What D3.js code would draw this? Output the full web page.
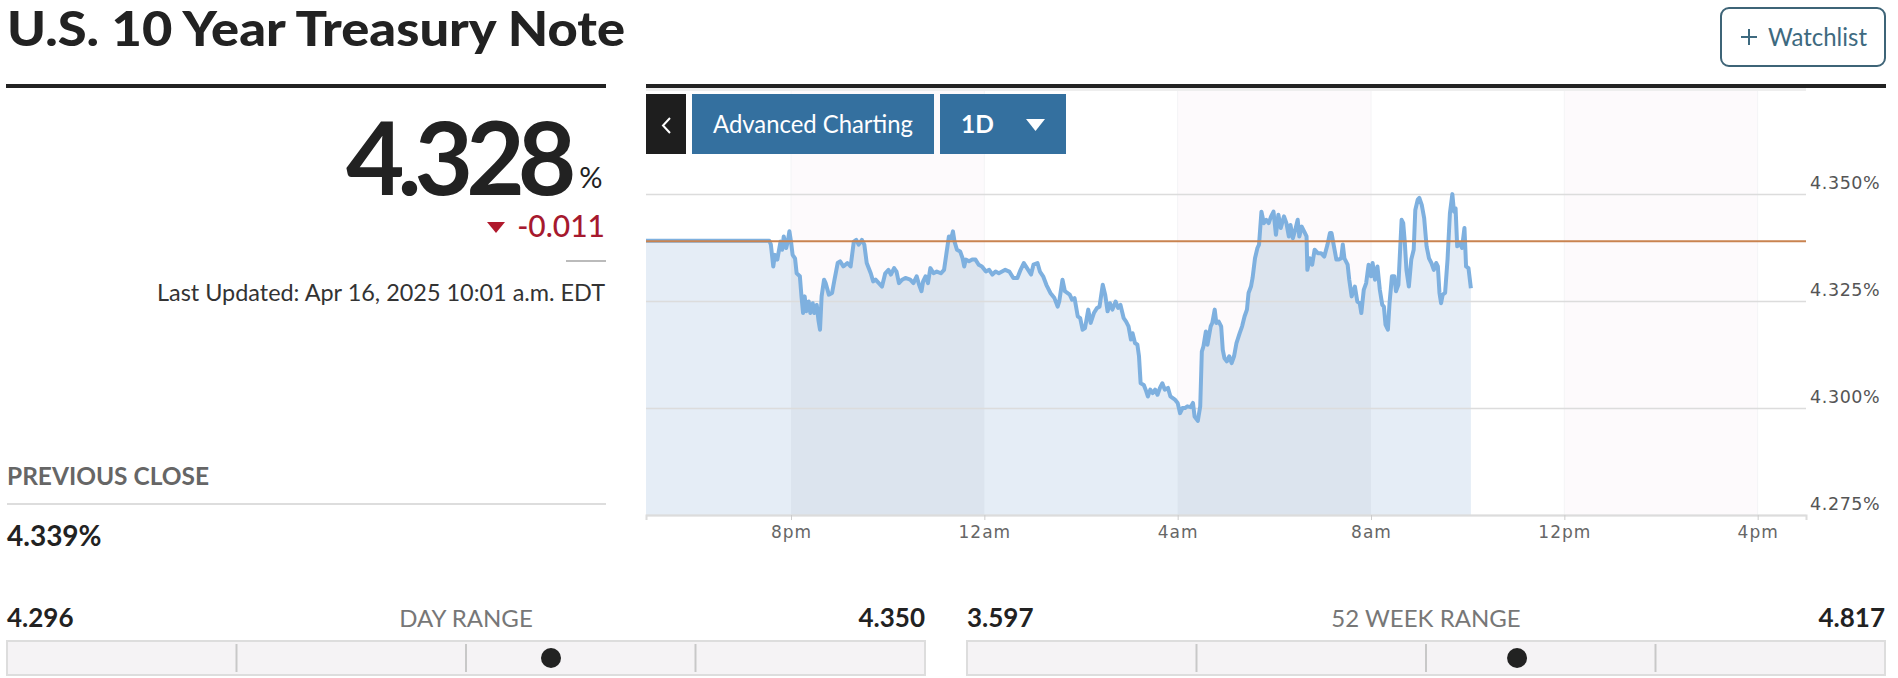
<!DOCTYPE html>
<html>
<head>
<meta charset="utf-8">
<script src="https://cdn.jsdelivr.net/npm/d3@7"></script>
<style>
  html, body { margin: 0; padding: 0; background: #fff; }
  svg { display: block; font-family: Lato, 'Open Sans', sans-serif; }
  .axis text { font-family: 'DejaVu Sans', sans-serif; }
</style>
</head>
<body>
<script>
// yield data (minutes after 5pm on Apr 15)
const minutes = [0, 153, 155, 158, 160, 163, 167, 169, 171, 174, 176, 178, 180, 182, 185, 187, 191, 193, 195, 197,
  199, 202, 204, 207, 209, 212, 214, 216, 218, 221, 223, 227, 231, 234, 238, 241, 245, 250, 254, 258,
  261, 264, 268, 271, 274, 279, 282, 285, 289, 293, 297, 301, 304, 308, 311, 314, 318, 322, 328, 332,
  336, 339, 342, 344, 347, 350, 353, 357, 361, 366, 370, 373, 376, 379, 381, 383, 386, 390, 393, 395,
  397, 401, 405, 409, 413, 417, 422, 426, 430, 434, 438, 442, 446, 451, 456, 461, 465, 469, 473, 478,
  481, 486, 489, 493, 497, 502, 507, 511, 513, 517, 520, 523, 526, 529, 532, 536, 539, 542, 545, 549,
  552, 556, 560, 563, 567, 570, 573, 576, 579, 583, 586, 589, 593, 596, 599, 602, 604, 607, 610, 612,
  614, 618, 621, 623, 626, 629, 632, 635, 638, 641, 644, 648, 651, 654, 657, 660, 663, 666, 669, 672,
  676, 679, 681, 685, 688, 690, 692, 695, 697, 701, 703, 706, 708, 711, 714, 716, 718, 721, 724, 727,
  730, 733, 737, 740, 743, 746, 748, 751, 753, 756, 759, 761, 764, 767, 770, 773, 776, 779, 782, 785,
  788, 792, 795, 798, 800, 803, 806, 809, 811, 814, 817, 820, 821, 824, 827, 830, 834, 838, 842, 846,
  849, 851, 854, 857, 860, 863, 865, 867, 871, 873, 876, 880, 883, 886, 888, 891, 894, 897, 900, 902,
  905, 908, 911, 914, 916, 918, 921, 923, 926, 929, 931, 934, 938, 940, 942, 944, 947, 950, 953, 955,
  958, 960, 963, 966, 969, 972, 975, 978, 981, 983, 985, 987, 989, 992, 995, 998, 1001, 1003, 1005, 1007,
  1010, 1013, 1016, 1017, 1018, 1021, 1024];
const yields = [4.3391, 4.3391, 4.3382, 4.3331, 4.3358, 4.3347, 4.3389, 4.3370, 4.3401, 4.3374, 4.3389, 4.3413, 4.3389, 4.3358, 4.3350, 4.3315, 4.3308, 4.3261, 4.3222, 4.3261,
  4.3226, 4.3249, 4.3222, 4.3245, 4.3222, 4.3241, 4.3206, 4.3183, 4.3261, 4.3300, 4.3292, 4.3265, 4.3269, 4.3300, 4.3339, 4.3343, 4.3331, 4.3339, 4.3331, 4.3389,
  4.3393, 4.3382, 4.3393, 4.3382, 4.3339, 4.3315, 4.3296, 4.3300, 4.3292, 4.3284, 4.3315, 4.3323, 4.3312, 4.3327, 4.3319, 4.3292, 4.3300, 4.3304, 4.3300, 4.3292,
  4.3308, 4.3288, 4.3273, 4.3296, 4.3308, 4.3292, 4.3327, 4.3315, 4.3319, 4.3315, 4.3323, 4.3362, 4.3401, 4.3397, 4.3413, 4.3389, 4.3370, 4.3366, 4.3350, 4.3331,
  4.3347, 4.3343, 4.3347, 4.3347, 4.3335, 4.3331, 4.3319, 4.3323, 4.3312, 4.3319, 4.3315, 4.3319, 4.3323, 4.3319, 4.3304, 4.3304, 4.3323, 4.3339, 4.3327, 4.3312,
  4.3335, 4.3339, 4.3319, 4.3308, 4.3288, 4.3269, 4.3257, 4.3237, 4.3249, 4.3300, 4.3273, 4.3269, 4.3265, 4.3253, 4.3257, 4.3214, 4.3210, 4.3183, 4.3187, 4.3230,
  4.3199, 4.3222, 4.3234, 4.3237, 4.3288, 4.3265, 4.3226, 4.3245, 4.3230, 4.3249, 4.3234, 4.3241, 4.3210, 4.3202, 4.3191, 4.3160, 4.3175, 4.3152, 4.3148, 4.3121,
  4.3058, 4.3054, 4.3039, 4.3027, 4.3043, 4.3035, 4.3043, 4.3031, 4.3047, 4.3058, 4.3043, 4.3047, 4.3027, 4.3023, 4.3019, 4.3012, 4.2988, 4.3000, 4.3000, 4.3004,
  4.3002, 4.3012, 4.2980, 4.2970, 4.3004, 4.3132, 4.3144, 4.3179, 4.3148, 4.3191, 4.3199, 4.3230, 4.3199, 4.3202, 4.3191, 4.3136, 4.3117, 4.3109, 4.3121, 4.3105,
  4.3121, 4.3152, 4.3175, 4.3191, 4.3214, 4.3230, 4.3269, 4.3284, 4.3304, 4.3350, 4.3374, 4.3382, 4.3459, 4.3432, 4.3440, 4.3432, 4.3448, 4.3459, 4.3405, 4.3452,
  4.3421, 4.3448, 4.3432, 4.3401, 4.3428, 4.3397, 4.3417, 4.3440, 4.3401, 4.3424, 4.3413, 4.3401, 4.3323, 4.3350, 4.3335, 4.3370, 4.3362, 4.3362, 4.3354, 4.3382,
  4.3409, 4.3409, 4.3378, 4.3347, 4.3347, 4.3350, 4.3382, 4.3350, 4.3335, 4.3300, 4.3261, 4.3284, 4.3249, 4.3245, 4.3222, 4.3276, 4.3292, 4.3335, 4.3308, 4.3339,
  4.3300, 4.3331, 4.3276, 4.3241, 4.3237, 4.3195, 4.3183, 4.3245, 4.3308, 4.3308, 4.3273, 4.3288, 4.3440, 4.3432, 4.3386, 4.3323, 4.3284, 4.3347, 4.3370, 4.3463,
  4.3487, 4.3491, 4.3475, 4.3444, 4.3378, 4.3350, 4.3339, 4.3323, 4.3339, 4.3331, 4.3269, 4.3245, 4.3265, 4.3269, 4.3347, 4.3456, 4.3500, 4.3459, 4.3467, 4.3378,
  4.3386, 4.3374, 4.3421, 4.3378, 4.3331, 4.3327, 4.3280];

const yTicks = [4.275, 4.300, 4.325, 4.350];
const previousClose = 4.339;
const lastPrice = 4.328;
const change = -0.011;
const dayRange = [4.296, 4.350];
const weekRange = [3.597, 4.817];

const W = 1898, H = 678;
const start = new Date(2025, 3, 15, 17, 0);
const end = new Date(2025, 3, 16, 17, 0);
const data = minutes.map((m, i) => ({ t: new Date(+start + m * 60000), v: yields[i] }));

const svg = d3.select('body').append('svg').attr('width', W).attr('height', H);

// ---- header ----
svg.append('text').attr('x', 7).attr('y', 46)
  .attr('font-size', 47).attr('font-weight', 900).attr('fill', '#222')
  .attr('textLength', 618).attr('lengthAdjust', 'spacingAndGlyphs')
  .text('U.S. 10 Year Treasury Note');

svg.append('rect').attr('x', 6).attr('y', 84).attr('width', 600).attr('height', 4).attr('fill', '#222');
svg.append('rect').attr('x', 646).attr('y', 84).attr('width', 1240).attr('height', 4).attr('fill', '#222');
svg.append('rect').attr('x', 646).attr('y', 88).attr('width', 1160).attr('height', 3).attr('fill', '#eeeeee');

// watchlist button
svg.append('rect').attr('x', 1721).attr('y', 8).attr('width', 164).attr('height', 58).attr('rx', 8)
  .attr('fill', 'none').attr('stroke', '#3e6477').attr('stroke-width', 2);
svg.append('path').attr('d', 'M1749,29L1749,45M1741,37L1757,37')
  .attr('stroke', '#3e6a80').attr('stroke-width', 2);
svg.append('text').attr('x', 1768).attr('y', 46).attr('font-size', 25).attr('fill', '#3e6a80')
  .attr('textLength', 99).attr('lengthAdjust', 'spacingAndGlyphs')
  .text('Watchlist');

// quote block: price, percent sign and change in one text element
const big = svg.append('text').attr('x', 346).attr('y', 195).attr('fill', '#222');
big.append('tspan').attr('font-size', 101).attr('font-weight', 700).attr('letter-spacing', -7)
  .text(lastPrice.toFixed(3));
big.append('tspan').attr('font-size', 29).attr('dx', 10).attr('dy', -7).text('%');
big.append('tspan').attr('x', 605).attr('y', 237).attr('text-anchor', 'end')
  .attr('font-size', 30).attr('font-weight', 500).attr('fill', '#a6192e').text(change.toFixed(3));
svg.append('path').attr('d', 'M487,222L505,222L496,233Z').attr('fill', '#b0192c');
svg.append('line').attr('x1', 566).attr('x2', 606).attr('y1', 261).attr('y2', 261)
  .attr('stroke', '#bbb').attr('stroke-width', 2);
svg.append('text').attr('x', 605).attr('y', 301).attr('text-anchor', 'end')
  .attr('font-size', 23.5).attr('fill', '#333')
  .attr('textLength', 448).attr('lengthAdjust', 'spacingAndGlyphs')
  .text('Last Updated: Apr 16, 2025 10:01 a.m. EDT');

// ---- chart ----
const plot = { left: 646, right: 1806, top: 91, bottom: 515 };
const x = d3.scaleTime().domain([start, end]).range([plot.left, plot.right]);
const y = d3.scaleLinear().domain([4.275, 4.3741]).range([plot.bottom, plot.top]);

const ticks = x.ticks(d3.timeHour.every(4));
const bands = [[ticks[0], ticks[1]], [ticks[2], ticks[3]], [ticks[4], ticks[5]]];

const chart = svg.append('g');

chart.selectAll('rect.band').data(bands).enter().append('rect')
  .attr('class', 'band')
  .attr('x', d => x(d[0])).attr('width', d => x(d[1]) - x(d[0]))
  .attr('y', plot.top).attr('height', plot.bottom - plot.top)
  .attr('fill', '#fdfafc');

chart.selectAll('line.vgrid').data(ticks).enter().append('line')
  .attr('class', 'vgrid')
  .attr('x1', d => x(d)).attr('x2', d => x(d))
  .attr('y1', plot.top).attr('y2', plot.bottom)
  .attr('stroke', '#f4f4f6').attr('stroke-width', 1);

const area = d3.area().x(d => x(d.t)).y0(y(4.275)).y1(d => y(d.v));
const line = d3.line().x(d => x(d.t)).y(d => y(d.v));

svg.append('defs').append('clipPath').attr('id', 'areaClip')
  .append('path').attr('d', area(data));

chart.append('path').attr('d', area(data)).attr('fill', '#e5edf6');
chart.append('g').attr('clip-path', 'url(#areaClip)')
  .selectAll('rect').data(bands).enter().append('rect')
  .attr('x', d => x(d[0])).attr('width', d => x(d[1]) - x(d[0]))
  .attr('y', plot.top).attr('height', plot.bottom - plot.top)
  .attr('fill', '#dce4ee');

// horizontal grid
const grid = chart.append('g').attr('transform', `translate(${plot.left},0)`)
  .call(d3.axisRight(y).tickValues(yTicks).tickSize(plot.right - plot.left).tickFormat(''));
grid.select('.domain').remove();
grid.selectAll('line').attr('stroke', '#dcdcdc').attr('stroke-width', 1.5);

// y labels
const yAxis = chart.append('g').attr('class', 'axis').attr('transform', `translate(${plot.right},0)`)
  .call(d3.axisRight(y).tickValues(yTicks).tickSize(0).tickPadding(4).tickFormat(d => d.toFixed(3) + '%'));
yAxis.select('.domain').remove();
yAxis.selectAll('text').attr('dy', '-0.3em').attr('font-size', 17.5)
  .attr('letter-spacing', 0.6).attr('fill', '#555');

// x axis
const xAxis = chart.append('g').attr('class', 'axis').attr('transform', `translate(0,${plot.bottom})`)
  .call(d3.axisBottom(x).tickValues(ticks).tickSize(5).tickPadding(6)
    .tickFormat(d => d3.timeFormat('%-I%p')(d).toLowerCase()));
xAxis.select('.domain').attr('stroke', '#dcdcdc').attr('stroke-width', 2);
xAxis.selectAll('line').attr('stroke', '#ccc');
xAxis.selectAll('text').attr('font-size', 17).attr('letter-spacing', 1).attr('fill', '#666');

// yield line + previous close line
chart.append('path').datum(data).attr('d', line)
  .attr('fill', 'none').attr('stroke', '#7eb0df').attr('stroke-width', 4)
  .attr('stroke-linejoin', 'round');
chart.append('line')
  .attr('x1', plot.left).attr('x2', plot.right)
  .attr('y1', y(previousClose)).attr('y2', y(previousClose))
  .attr('stroke', '#c98350').attr('stroke-width', 2);

// chart buttons
svg.append('rect').attr('x', 646).attr('y', 94).attr('width', 40).attr('height', 60).attr('fill', '#1e1e1e');
svg.append('path').attr('d', 'M670,118L663,125.5L670,133').attr('fill', 'none')
  .attr('stroke', '#fff').attr('stroke-width', 2);
svg.append('rect').attr('x', 692).attr('y', 94).attr('width', 242).attr('height', 60).attr('fill', '#34709f');
svg.append('text').attr('x', 713).attr('y', 133).attr('font-size', 24.5).attr('fill', '#fff')
  .attr('textLength', 200).attr('lengthAdjust', 'spacingAndGlyphs').text('Advanced Charting');
svg.append('rect').attr('x', 940).attr('y', 94).attr('width', 126).attr('height', 60).attr('fill', '#34709f');
svg.append('text').attr('x', 961).attr('y', 133).attr('font-size', 24.5).attr('font-weight', 700)
  .attr('fill', '#fff').text('1D');
svg.append('path').attr('d', 'M1026,119L1045,119L1035.5,131Z').attr('fill', '#fff');

// ---- previous close ----
svg.append('text').attr('x', 7).attr('y', 485).attr('font-size', 24).attr('font-weight', 700)
  .attr('fill', '#666').attr('textLength', 202).attr('lengthAdjust', 'spacingAndGlyphs')
  .text('PREVIOUS CLOSE');
svg.append('line').attr('x1', 7).attr('x2', 606).attr('y1', 504).attr('y2', 504)
  .attr('stroke', '#ddd').attr('stroke-width', 2);
svg.append('text').attr('x', 7).attr('y', 546).attr('font-size', 28).attr('font-weight', 700)
  .attr('fill', '#222').text(previousClose.toFixed(3) + '%');

// ---- range sliders ----
function rangeBar(x0, x1, range, label) {
  const g = svg.append('g');
  const s = d3.scaleLinear().domain(range).range([x0, x1]);
  g.append('text').attr('x', x0).attr('y', 627).attr('font-size', 26).attr('font-weight', 700)
    .attr('fill', '#222').text(range[0].toFixed(3));
  g.append('text').attr('x', x1).attr('y', 627).attr('text-anchor', 'end').attr('font-size', 26)
    .attr('font-weight', 700).attr('fill', '#222').text(range[1].toFixed(3));
  g.append('text').attr('x', (x0 + x1) / 2).attr('y', 627).attr('text-anchor', 'middle')
    .attr('font-size', 24).attr('fill', '#777').text(label);
  g.append('rect').attr('x', x0).attr('y', 641).attr('width', x1 - x0).attr('height', 34)
    .attr('fill', '#f5f3f5').attr('stroke', '#dddddd').attr('stroke-width', 2);
  const quarters = d3.range(1, 4).map(k => range[0] + (range[1] - range[0]) * k / 4);
  g.selectAll('line').data(quarters).enter().append('line')
    .attr('x1', d => s(d)).attr('x2', d => s(d)).attr('y1', 644).attr('y2', 672)
    .attr('stroke', '#c8c8c8').attr('stroke-width', 2);
  g.append('circle').attr('cx', s(lastPrice)).attr('cy', 658).attr('r', 10).attr('fill', '#222');
}
rangeBar(7, 925, dayRange, 'DAY RANGE');
rangeBar(967, 1885, weekRange, '52 WEEK RANGE');
</script>
</body>
</html>
